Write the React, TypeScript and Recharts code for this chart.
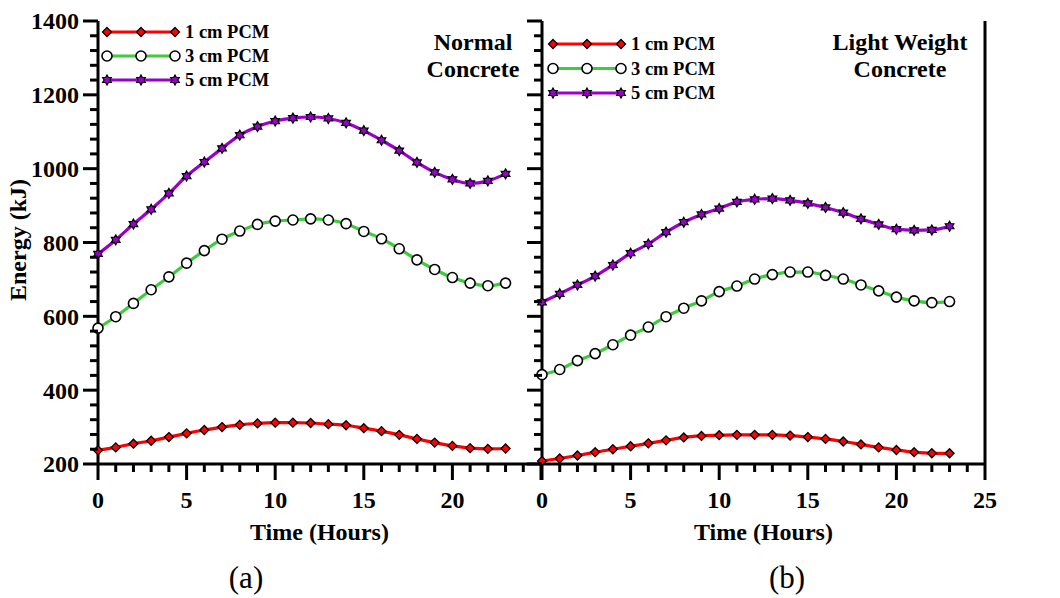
import React from 'react'
import { LineChart, Line, XAxis, YAxis } from 'recharts'

const FONT = '"Liberation Serif", "Times New Roman", serif'

const hours = [0, 1, 2, 3, 4, 5, 6, 7, 8, 9, 10, 11, 12, 13, 14, 15, 16, 17, 18, 19, 20, 21, 22, 23]

// Normal concrete (a)
const normal1 = [237, 245, 255, 263, 273, 283, 292, 300, 306, 310, 312, 312, 311, 308, 305, 297, 289, 279, 268, 258, 249, 243, 241, 242]
const normal3 = [568, 599, 635, 672, 707, 744, 778, 809, 831, 849, 858, 861, 864, 861, 851, 830, 810, 783, 753, 727, 705, 690, 683, 690]
const normal5 = [769, 807, 850, 890, 933, 980, 1018, 1055, 1091, 1114, 1129, 1137, 1140, 1136, 1124, 1103, 1077, 1049, 1017, 990, 971, 960, 967, 986]

// Light weight concrete (b)
const light1 = [208, 215, 223, 232, 240, 248, 256, 264, 272, 276, 278, 279, 279, 279, 277, 273, 268, 261, 253, 245, 238, 232, 229, 229]
const light3 = [442, 456, 480, 499, 523, 549, 571, 599, 622, 642, 667, 682, 701, 713, 720, 720, 711, 701, 685, 669, 652, 642, 637, 640]
const light5 = [638, 661, 685, 709, 739, 771, 796, 828, 855, 876, 892, 910, 917, 919, 914, 906, 895, 881, 864, 849, 836, 833, 834, 844]

const xTicks = [0, 1, 2, 3, 4, 5, 6, 7, 8, 9, 10, 11, 12, 13, 14, 15, 16, 17, 18, 19, 20, 21, 22, 23, 24, 25]
const yTicks = [200, 240, 280, 320, 360, 400, 440, 480, 520, 560, 600, 640, 680, 720, 760, 800, 840, 880, 920, 960, 1000, 1040, 1080, 1120, 1160, 1200, 1240, 1280, 1320, 1360, 1400]
const seriesNames = ['1 cm PCM', '3 cm PCM', '5 cm PCM']

const RED = '#ff0000'
const GREEN = '#3ccc3c'
const PURPLE = '#9a00cc'

const normalData = hours.map((h, i) => ({ h, s1: normal1[i], s3: normal3[i], s5: normal5[i] }))
const lightData = hours.map((h, i) => ({ h, s1: light1[i], s3: light3[i], s5: light5[i] }))

function starPath(cx: number, cy: number, r: number) {
  let d = ''
  for (let i = 0; i < 12; i++) {
    const a = (-90 + i * 30) * Math.PI / 180
    const rr = i % 2 === 0 ? r : r * 0.58
    d += (i === 0 ? 'M' : 'L') + (cx + rr * Math.cos(a)).toFixed(2) + ',' + (cy + rr * Math.sin(a)).toFixed(2)
  }
  return d + 'Z'
}

function Marker({ kind, cx, cy }: { kind: string; cx: number; cy: number }) {
  if (kind === 'diamond') {
    return <path d={`M${cx},${cy - 4.5}L${cx + 4.5},${cy}L${cx},${cy + 4.5}L${cx - 4.5},${cy}Z`} fill={RED} stroke="#000" strokeWidth={1.3} />
  }
  if (kind === 'circle') {
    return <circle cx={cx} cy={cy} r={5} fill="#fff" stroke="#000" strokeWidth={1.6} />
  }
  return <path d={starPath(cx, cy, 5)} fill={PURPLE} stroke="#000" strokeWidth={1.2} />
}

const dotFn = (kind: string) => (p: any) => {
  if (p.cx == null || p.cy == null) return <g key={`${kind}-${p.index}`} />
  return <g key={`${kind}-${p.index}`}><Marker kind={kind} cx={p.cx} cy={p.cy} /></g>
}

function XTick({ x, y, payload, side, labels }: any) {
  const v = payload.value
  const major = v % 5 === 0
  const len = major ? 16 : 8
  const dir = side === 'top' ? -1 : 1
  return (
    <g>
      <line x1={x} y1={y} x2={x} y2={y + dir * len} stroke="#000" strokeWidth={3} />
      {labels && major && labels.includes(v) && (
        <text x={x} y={y + 44} textAnchor="middle" fontFamily={FONT} fontWeight="bold" fontSize={24} fill="#000">{v}</text>
      )}
    </g>
  )
}

function YTick({ x, y, payload, side, showLabel }: any) {
  const v = payload.value
  const major = v % 200 === 0
  const len = major ? 15 : 8
  const dir = side === 'left' ? -1 : 1
  return (
    <g>
      <line x1={x} y1={y} x2={x + dir * len} y2={y} stroke="#000" strokeWidth={3} />
      {showLabel && major && (
        <text x={x + dir * 19} y={y} dy="0.35em" textAnchor={side === 'left' ? 'end' : 'start'} fontFamily={FONT} fontWeight="bold" fontSize={24} fill="#000">{v}</text>
      )}
    </g>
  )
}

function LegendBox({ left, top, gaps }: { left: number; top: number; gaps: number }) {
  const kinds = ['diamond', 'circle', 'star']
  const colors = [RED, GREEN, PURPLE]
  return (
    <svg style={{ position: 'absolute', left, top }} width={190} height={80}>
      {seriesNames.map((n, i) => {
        const y = 12 + i * gaps
        return (
          <g key={n}>
            <line x1={7} y1={y} x2={75} y2={y} stroke={colors[i]} strokeWidth={3} />
            <Marker kind={kinds[i]} cx={7} cy={y} />
            <Marker kind={kinds[i]} cx={41} cy={y} />
            <Marker kind={kinds[i]} cx={75} cy={y} />
            <text x={85} y={y} dy="0.35em" fontFamily={FONT} fontWeight="bold" fontSize={18.5} fill="#000">{n}</text>
          </g>
        )
      })}
    </svg>
  )
}

const axisLine = { stroke: '#000', strokeWidth: 3 }

function Panel({ data, right }: { data: any[]; right: boolean }) {
  const width = right ? 540 : 560
  return (
    <LineChart
      width={width}
      height={598}
      data={data}
      margin={{ top: 21, right: right ? 0 : 19, bottom: 58, left: 0 }}
    >
      <XAxis
        dataKey="h"
        type="number"
        domain={[0, 25]}
        ticks={xTicks}
        interval={0}
        height={76}
        tickSize={0}
        tickMargin={0}
        tickLine={false}
        axisLine={axisLine}
        tick={(p: any) => <XTick {...p} side="bottom" labels={right ? [0, 5, 10, 15, 20, 25] : [0, 5, 10, 15, 20]} />}
        label={{ value: 'Time (Hours)', position: 'insideBottom', offset: 0, fontFamily: FONT, fontWeight: 'bold', fontSize: 24, fill: '#000' }}
      />
      <XAxis
        xAxisId="top"
        dataKey="h"
        type="number"
        orientation="top"
        domain={[0, 25]}
        ticks={xTicks}
        interval={0}
        height={0}
        tickSize={0}
        tickMargin={0}
        tickLine={false}
        axisLine={axisLine}
        tick={(p: any) => <XTick {...p} side="top" />}
      />
      <YAxis
        yAxisId="left"
        type="number"
        domain={[200, 1400]}
        ticks={yTicks}
        interval={0}
        width={right ? 22 : 98}
        tickSize={0}
        tickMargin={0}
        tickLine={false}
        axisLine={axisLine}
        tick={(p: any) => <YTick {...p} side="left" showLabel={!right} />}
      />
      {right && (
        <YAxis
          yAxisId="right"
          orientation="right"
          type="number"
          domain={[200, 1400]}
          ticks={yTicks}
          interval={0}
          width={75}
          tickSize={0}
          tickMargin={0}
          tickLine={false}
          axisLine={axisLine}
          tick={(p: any) => <YTick {...p} side="right" showLabel />}
        />
      )}
      <Line yAxisId="left" type="monotone" dataKey="s1" name={seriesNames[0]} stroke={RED} strokeWidth={3.2} dot={dotFn('diamond')} activeDot={false} isAnimationActive={false} />
      <Line yAxisId="left" type="monotone" dataKey="s3" name={seriesNames[1]} stroke={GREEN} strokeWidth={3.2} dot={dotFn('circle')} activeDot={false} isAnimationActive={false} />
      <Line yAxisId="left" type="monotone" dataKey="s5" name={seriesNames[2]} stroke={PURPLE} strokeWidth={3.2} dot={dotFn('star')} activeDot={false} isAnimationActive={false} />
    </LineChart>
  )
}

const titleStyle: React.CSSProperties = {
  position: 'absolute',
  fontFamily: FONT,
  fontWeight: 'bold',
  fontSize: 24,
  lineHeight: '27px',
  textAlign: 'center',
  color: '#000',
}

const captionStyle: React.CSSProperties = {
  position: 'absolute',
  width: 100,
  textAlign: 'center',
  fontFamily: FONT,
  fontSize: 31,
  lineHeight: '36px',
}

export default function App() {
  return (
    <div style={{ position: 'absolute', left: 0, top: 0, width: 1060, height: 598, background: '#fff', overflow: 'hidden' }}>
      <div style={{ position: 'absolute', left: 0, top: 0 }}>
        <Panel data={normalData} right={false} />
      </div>
      <div style={{ position: 'absolute', left: 520, top: 0 }}>
        <Panel data={lightData} right />
      </div>
      <LegendBox left={100} top={20} gaps={24} />
      <LegendBox left={546} top={32} gaps={24.5} />
      <div style={{ ...titleStyle, left: 398, top: 29, width: 150 }}>Normal<br />Concrete</div>
      <div style={{ ...titleStyle, left: 805, top: 29, width: 190 }}>Light Weight<br />Concrete</div>
      <div
        style={{
          position: 'absolute',
          left: 18,
          top: 240,
          transform: 'translate(-50%, -50%) rotate(-90deg)',
          fontFamily: FONT,
          fontWeight: 'bold',
          fontSize: 24,
          whiteSpace: 'nowrap',
        }}
      >
        Energy (kJ)
      </div>
      <div style={{ ...captionStyle, left: 196, top: 560 }}>(a)</div>
      <div style={{ ...captionStyle, left: 737, top: 560 }}>(b)</div>
    </div>
  )
}
